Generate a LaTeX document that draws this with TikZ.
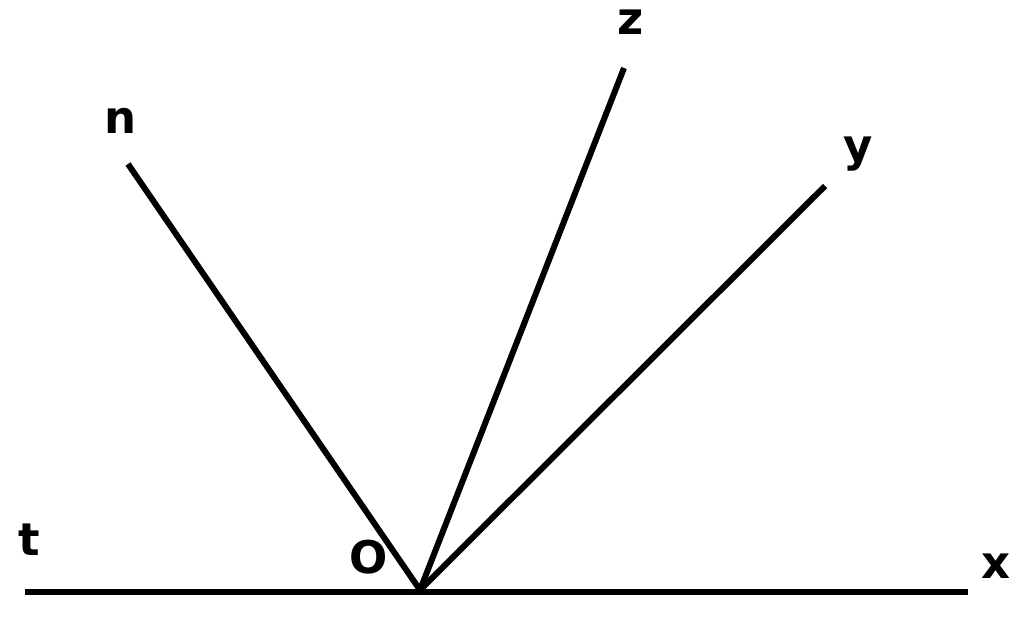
\documentclass[tikz,border=0pt]{standalone}
\usepackage{fontspec}
\setmainfont{DejaVu Sans}
\begin{document}
\begin{tikzpicture}[x=1pt,y=-1pt,
  ray/.style={line width=6pt,black},
  lbl/.style={anchor=base,inner sep=0pt,font=\bfseries\fontsize{45}{45}\selectfont}]
\useasboundingbox[fill=white] (0,0) rectangle (1024,632);
\coordinate (O) at (420,590);
\coordinate (tend) at (25,592);
\coordinate (xend) at (968,592);
\coordinate (nend) at (128,164);
\coordinate (zend) at (624,68);
\coordinate (yend) at (825,186);
\draw[ray] (tend) -- (xend);
\draw[ray] (O) -- (nend);
\draw[ray] (O) -- (zend);
\draw[ray] (O) -- (yend);
\node[lbl] (lz) at (631,34) {z};
\node[lbl] (ln) at (121,133) {n};
\node[lbl] (ly) at (858,161) {y};
\node[lbl] (lt) at (29,555) {t};
\node[lbl] (lO) at (369,573) {O};
\node[lbl] (lx) at (996,578) {x};
\end{tikzpicture}
\end{document}
